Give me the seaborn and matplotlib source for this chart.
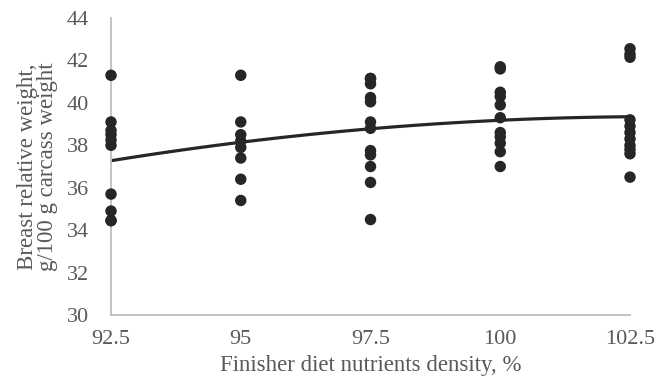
import matplotlib
matplotlib.use("Agg")
import matplotlib.pyplot as plt
import pandas as pd
import seaborn as sns

# ===========
# DATA
# ===========

density_levels = [92.5, 95, 97.5, 100, 102.5]
tick_labels = ["92.5", "95", "97.5", "100", "102.5"]

# some birds overlap in the picture, duplicates kept where a dot looks heavier
breast_925 = [41.3, 39.1, 38.7, 38.5, 38.25, 38.0, 35.7, 34.9, 34.45, 34.45]
breast_95 = [41.3, 39.1, 38.5, 38.2, 37.9, 37.4, 36.4, 35.4]
breast_975 = [41.15, 41.15, 40.9, 40.25, 40.05, 39.1, 38.8, 37.75, 37.55, 37.0, 36.25, 34.5]
breast_100 = [41.7, 41.6, 40.5, 40.3, 39.9, 39.3, 38.6, 38.4, 38.1, 37.7, 37.0]
breast_1025 = [42.55, 42.3, 42.15, 39.2, 38.9, 38.6, 38.3, 38.0, 37.8, 37.6, 36.5]

groups = [breast_925, breast_95, breast_975, breast_100, breast_1025]
df = pd.DataFrame({
    "density": [lvl for lvl, vals in zip(density_levels, groups) for _ in vals],
    "weight": [v for vals in groups for v in vals],
})

# ===========
# PLOT
# ===========

sns.set_style("white")
plt.rcParams["font.family"] = ["Liberation Serif", "DejaVu Serif"]

grey_txt = "#595959"
dark = "#262626"

fig = plt.figure(figsize=(6.7, 3.89), dpi=100)
ax = fig.add_axes([0.1657, 0.1902, 0.7746, 0.7635])

sns.scatterplot(data=df, x="density", y="weight", color=dark, s=68,
                edgecolor="none", ax=ax, clip_on=False, zorder=3)
sns.regplot(data=df, x="density", y="weight", order=2, ci=None, scatter=False,
            line_kws={"color": dark, "lw": 2.3}, ax=ax, truncate=True)

ax.set_xlim(92.5, 102.5)
ax.set_ylim(30, 44)
ax.set_xticks(density_levels)
ax.set_xticklabels(tick_labels)
ax.set_yticks(range(30, 45, 2))

ax.tick_params(axis="both", length=0, labelsize=16, labelcolor=grey_txt)
ax.tick_params(axis="y", pad=16)
ax.tick_params(axis="x", pad=11)

for side in ["top", "right"]:
    ax.spines[side].set_visible(False)
for side in ["left", "bottom"]:
    ax.spines[side].set_color("#bfbfbf")
    ax.spines[side].set_linewidth(1.3)

ax.set_xlabel("Finisher diet nutrients density, %", fontsize=16.5,
              color=grey_txt, labelpad=4)
ax.set_ylabel("Breast relative weight,\ng/100 g carcass weight", fontsize=16.5,
              color=grey_txt, labelpad=6, linespacing=0.95)

fig.savefig("out.png", dpi=100)
